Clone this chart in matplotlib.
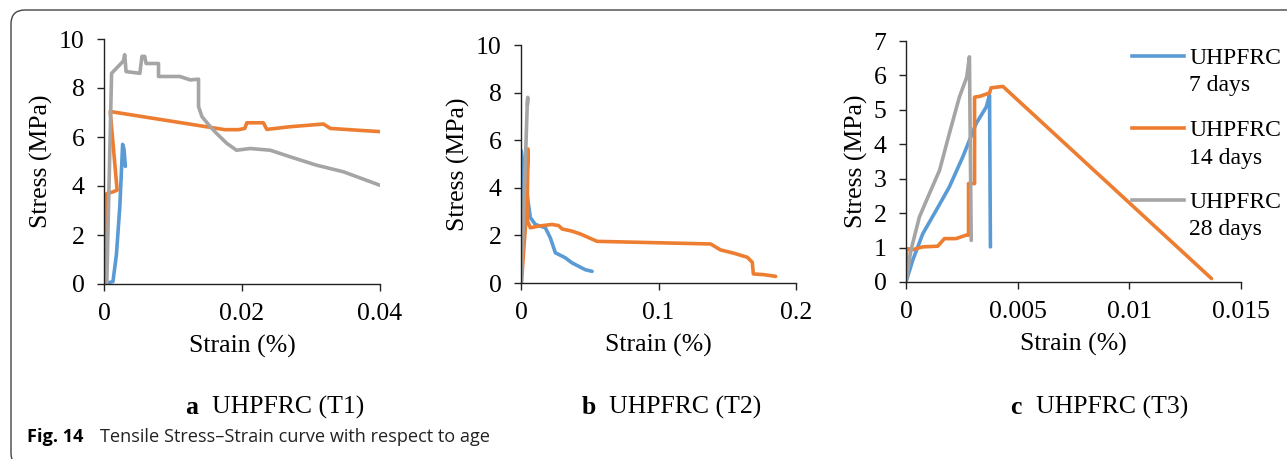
import matplotlib.pyplot as plt
from matplotlib.patches import FancyBboxPatch
from matplotlib.lines import Line2D

# colours of the three ages (Excel defaults)
c7 = '#5B9BD5'
c14 = '#ED7D31'
c28 = '#A5A5A5'

# --- T1 ---
t1_7d_x = [0, 0.0013, 0.0018, 0.0023, 0.0027, 0.0029, 0.0031]
t1_7d_y = [0, 0.1, 1.2, 3.2, 5.7, 5.5, 4.8]
t1_14d_x = [0.00015, 0.0004, 0.0013, 0.0019, 0.0009, 0.0175, 0.0195, 0.0204, 0.0207,
            0.0231, 0.0236, 0.027, 0.0318, 0.0328, 0.0366, 0.04]
t1_14d_y = [0, 3.69, 3.76, 3.83, 7.04, 6.3, 6.3, 6.35, 6.58, 6.58, 6.31, 6.42, 6.53,
            6.35, 6.28, 6.22]
t1_28d_x = [0.0004, 0.0011, 0.0028, 0.003, 0.0032, 0.0052, 0.0055, 0.0059, 0.0061,
            0.0079, 0.0079, 0.011, 0.0125, 0.0137, 0.0137, 0.0142, 0.0154, 0.0163,
            0.0178, 0.0192, 0.0212, 0.0241, 0.027, 0.0308, 0.0347, 0.04]
t1_28d_y = [0, 8.6, 9.1, 9.36, 8.67, 8.6, 9.29, 9.29, 9.0, 9.0, 8.47, 8.47, 8.33,
            8.36, 7.24, 6.83, 6.42, 6.15, 5.74, 5.46, 5.53, 5.46, 5.19, 4.85, 4.58, 4.03]

# --- T2 ---
t2_7d_x = [0, 0.0002, 0.0044, 0.0068, 0.0104, 0.0177, 0.0213, 0.025, 0.0322, 0.037,
           0.0467, 0.0517]
t2_7d_y = [0, 5.56, 3.73, 2.75, 2.46, 2.32, 1.9, 1.27, 1.06, 0.85, 0.56, 0.49]
t2_14d_x = [0.0003, 0.0046, 0.0051, 0.0044, 0.0047, 0.0068, 0.0128, 0.0225, 0.0274,
            0.0299, 0.037, 0.0432, 0.0553, 0.1379, 0.1451, 0.1549, 0.1646, 0.1682,
            0.169, 0.1767, 0.1852]
t2_14d_y = [0, 3.5, 5.63, 4.5, 2.61, 2.32, 2.39, 2.46, 2.41, 2.27, 2.18, 2.06, 1.75,
            1.64, 1.39, 1.25, 1.08, 0.87, 0.38, 0.35, 0.28]
t2_28d_x = [0.0002, 0.0015, 0.003, 0.0045, 0.0049, 0.0047]
t2_28d_y = [0, 2.2, 4.8, 7.4, 7.8, 7.5]

# --- T3 ---
t3_7d_x = [0, 0.0003, 0.00075, 0.00135, 0.00194, 0.00254, 0.00314, 0.00359, 0.00374,
           0.00378]
t3_7d_y = [0, 0.63, 1.40, 2.08, 2.76, 3.63, 4.6, 5.08, 5.42, 1.02]
t3_14d_x = [0, 0.00003, 0.0003, 0.00075, 0.00142, 0.00172, 0.00224, 0.00269, 0.0028,
            0.0028, 0.00307, 0.00307, 0.00329, 0.00374, 0.00381, 0.00434, 0.01368]
t3_14d_y = [0, 0.97, 0.94, 1.02, 1.04, 1.26, 1.26, 1.36, 1.36, 2.86, 2.86, 5.37, 5.39,
            5.49, 5.64, 5.68, 0.1]
t3_28d_x = [0, 0.00022, 0.0006, 0.00105, 0.0015, 0.00194, 0.00239, 0.00272, 0.00284,
            0.00292]
t3_28d_y = [0, 0.92, 1.89, 2.57, 3.24, 4.31, 5.37, 5.95, 6.54, 1.21]

panel_letters = ['a', 'b', 'c']
panel_names = ['UHPFRC (T1)', 'UHPFRC (T2)', 'UHPFRC (T3)']
legend_names = ['UHPFRC', 'UHPFRC', 'UHPFRC']
legend_ages = ['7 days', '14 days', '28 days']

xticks = [[0, 0.02, 0.04], [0, 0.1, 0.2], [0, 0.005, 0.01, 0.015]]
xticklabels = [['0', '0.02', '0.04'], ['0', '0.1', '0.2'], ['0', '0.005', '0.01', '0.015']]
yticks = [list(range(0, 11, 2)), list(range(0, 11, 2)), list(range(0, 8))]

plt.rcParams['font.family'] = ['Liberation Serif', 'DejaVu Serif']

W, H = 1287, 459
fig = plt.figure(figsize=(W / 100, H / 100), dpi=100)


def fx(x):
    return x / W


def fy(y):
    return 1 - y / H


# axes boxes in pixels (left, right, top, bottom)
boxes = [(104, 380, 39, 284), (521, 796, 45, 283), (906, 1241, 41, 282)]
data = [
    [(t1_7d_x, t1_7d_y), (t1_14d_x, t1_14d_y), (t1_28d_x, t1_28d_y)],
    [(t2_7d_x, t2_7d_y), (t2_14d_x, t2_14d_y), (t2_28d_x, t2_28d_y)],
    [(t3_7d_x, t3_7d_y), (t3_14d_x, t3_14d_y), (t3_28d_x, t3_28d_y)],
]
colors = [c7, c14, c28]

for i, (l, r, t, b) in enumerate(boxes):
    ax = fig.add_axes([fx(l), fy(b), (r - l) / W, (b - t) / H])
    for (xs, ys), c in zip(data[i], colors):
        ax.plot(xs, ys, color=c, lw=2.6, solid_joinstyle='round', solid_capstyle='round')
    ax.set_xlim(xticks[i][0], xticks[i][-1])
    ax.set_ylim(yticks[i][0], yticks[i][-1])
    ax.set_xticks(xticks[i])
    ax.set_xticklabels(xticklabels[i])
    ax.set_yticks(yticks[i])
    ax.spines['top'].set_visible(False)
    ax.spines['right'].set_visible(False)
    for s in ['left', 'bottom']:
        ax.spines[s].set_linewidth(1.0)
        ax.spines[s].set_color('#222222')
    ax.tick_params(direction='out', length=5, width=1.0, labelsize=18.5, color='#222222')
    ax.tick_params(axis='y', pad=9)
    ax.tick_params(axis='x', pad=9)
    ax.set_xlabel('Strain (%)', fontsize=18.5, labelpad=7)
    ax.set_ylabel('Stress (MPa)', fontsize=18.5, labelpad=4)
    ax.patch.set_alpha(0)

# legend drawn by hand: line level with the first text line
leg_y = [56, 128, 200]
for c, name, age, y in zip(colors, legend_names, legend_ages, leg_y):
    fig.add_artist(Line2D([fx(1132), fx(1184)], [fy(y), fy(y)], color=c, lw=2.6))
    fig.text(fx(1189), fy(y + 7.5), name, fontsize=17, ha='left', va='baseline')
    fig.text(fx(1189), fy(y + 35.5), age, fontsize=17, ha='left', va='baseline')

# panel captions
cap_x = [(185, 212), (582, 609), (1010, 1036)]
for (xa, xb), let, name in zip(cap_x, panel_letters, panel_names):
    fig.text(fx(xa), fy(407), let, fontsize=18.5, fontweight='bold', ha='left', va='center')
    fig.text(fx(xb), fy(407), name, fontsize=18.5, ha='left', va='center')

# figure caption, sized to the reference width
cap_bold = fig.text(fx(27), fy(437), 'Fig. 14', family='Open Sans', fontweight='bold',
                    fontsize=12, ha='left', va='center')
cap_text = fig.text(fx(100), fy(437), 'Tensile Stress\u2013Strain curve with respect to age',
                    family='Open Sans', fontsize=12, ha='left', va='center', color='#222222')
fig.canvas.draw()
rend = fig.canvas.get_renderer()
w_now = cap_text.get_window_extent(rend).width
fs = 12 * 388 / w_now
cap_text.set_fontsize(fs)
cap_bold.set_fontsize(fs)

# rounded frame around the figure
frame = FancyBboxPatch((11, -8), 1300, H - 10 + 8, boxstyle='round,pad=0,rounding_size=14',
                       transform=None, fill=False, ec='#444444', lw=1.0)
fig.add_artist(frame)

fig.savefig('out.png', dpi=100)
